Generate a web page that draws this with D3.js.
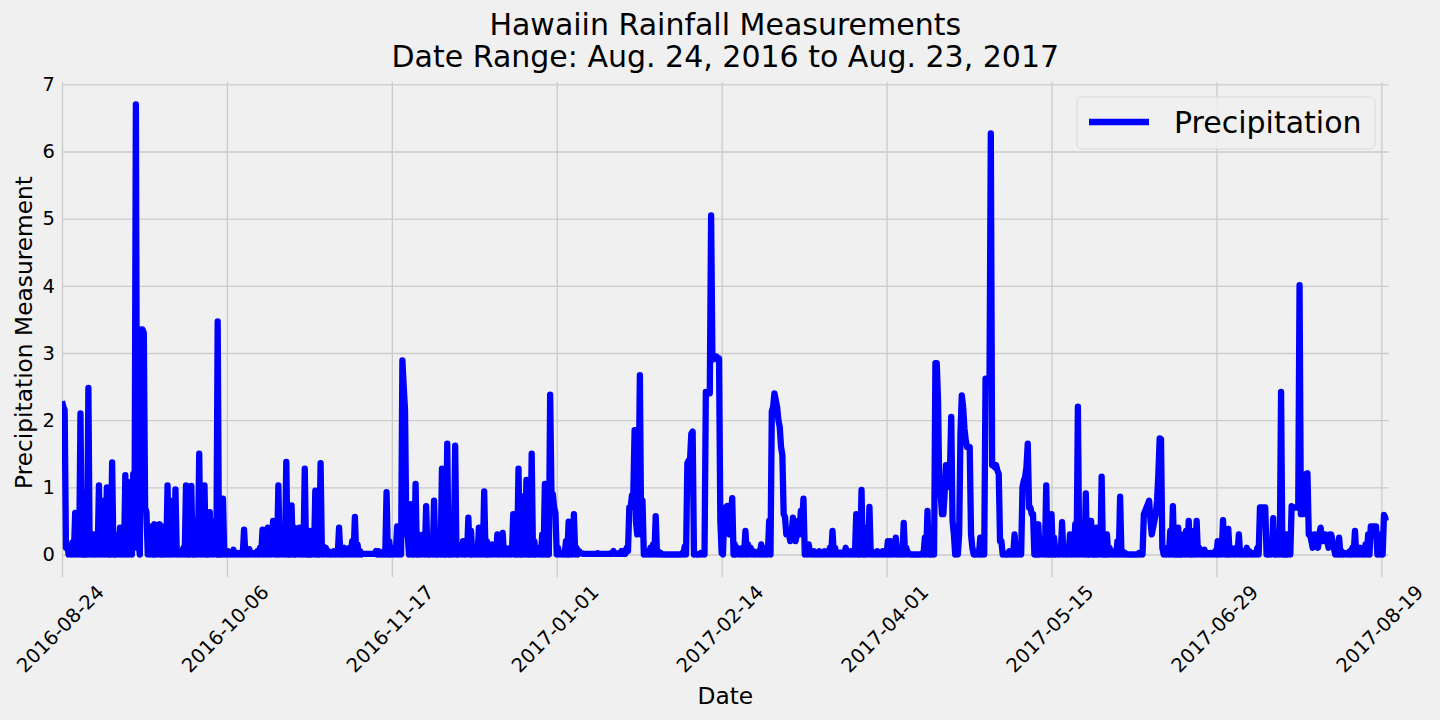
<!DOCTYPE html>
<html>
<head>
<meta charset="utf-8">
<script src="https://cdn.jsdelivr.net/npm/d3@7"></script>
<style>
html,body{margin:0;padding:0;background:#f0f0f0;}
svg{display:block;font-family:"DejaVu Sans","Liberation Sans",sans-serif;}
</style>
</head>
<body>
<svg id="chart" width="1440" height="720"></svg>
<script>
// Precipitation readings (inches), one reading every 2 rows of the date-sorted table
const precip = [
2.28,2.2, 2.15,0.1, 0.15,0, 0.02,0, 0.18,0, 0.62,0, 0.1,0, 2.1,0, 0.92,0, 0.35,0,
2.48,0, 0.05,0, 0.3,0, 0.05,0, 1.03,0, 0.1,0, 0.8,0, 1.0,0, 0.2,0, 1.37,0,
0.3,0, 0.1,0, 0.4,0, 0.05,0, 1.18,0, 0.1,0, 1.08,0, 1.2,0.5, 6.7,0.1, 0.2,0,
3.35,3.35, 3.3,0.7, 0.63,0, 0.1,0, 0.42,0, 0.45,0, 0.1,0, 0.45,0, 0.42,0, 0.05,0,
1.03,0, 0.8,0, 0.1,0, 0.97,0, 0.05,0, 0.02,0, 0.1,0, 1.03,0, 0.3,0, 1.02,0,
0.2,0, 0.5,0, 1.5,0, 0.1,0, 1.03,0, 0.3,0, 0.63,0, 0.1,0, 0.5,0, 3.47,0,
0.2,0, 0.83,0, 0.05,0, 0.05,0, 0.02,0, 0.07,0, 0.02,0, 0.02,0, 0.02,0, 0.37,0,
0.02,0, 0.08,0, 0.02,0, 0.02,0, 0.05,0, 0.1,0, 0.37,0, 0.1,0, 0.4,0, 0.1,0,
0.5,0, 0.2,0, 1.03,0, 0.1,0, 0.2,0, 1.38,0, 0.2,0, 0.73,0, 0.4,0, 0.1,0,
0.4,0, 0.2,0, 1.28,0, 0.35,0, 0.35,0, 0.1,0, 0.95,0, 0.2,0, 1.36,0, 0.12,0,
0.1,0, 0.05,0, 0.02,0, 0.05,0, 0.02,0, 0.4,0, 0.05,0, 0.1,0, 0.02,0, 0.1,0,
0.2,0, 0.56,0, 0.15,0, 0.05,0, 0.01,0.01, 0.01,0.01, 0.01,0.01, 0.01,0.01, 0.01,0.01, 0.05,0,
0.05,0, 0.02,0, 0.05,0, 0.93,0, 0.2,0, 0.02,0, 0.1,0, 0.42,0, 0.1,0, 2.89,2.5,
2.15,0.3, 0.3,0, 0.75,0, 0.2,0, 1.05,0, 0.3,0, 0.1,0, 0.3,0, 0.72,0, 0.25,0,
0.1,0, 0.8,0, 0.2,0, 0.3,0, 1.28,0, 0.3,0, 1.65,0, 0.3,0, 0.1,0, 1.62,0,
0.15,0, 0.1,0, 0.2,0, 0.1,0, 0.55,0, 0.35,0, 0.1,0, 0.05,0, 0.4,0, 0.1,0,
0.94,0, 0.2,0, 0.05,0, 0.15,0, 0.1,0, 0.3,0, 0.1,0, 0.32,0, 0.1,0, 0.05,0,
0.1,0, 0.6,0, 0.2,0, 1.28,0, 0.3,0, 0.87,0, 1.11,0, 0.2,0, 1.5,0, 0.2,0,
0.1,0, 0.05,0, 0.3,0, 1.05,0, 0.3,0, 2.38,0.9, 0.9,0.7, 0.62,0, 0.1,0, 0.02,0,
0.02,0, 0.2,0, 0.49,0, 0.1,0, 0.6,0, 0.1,0, 0.05,0.02, 0.02,0.01, 0.01,0.01, 0.01,0.01,
0.01,0.01, 0.01,0.01, 0.01,0.01, 0.02,0.01, 0.01,0.01, 0.01,0.01, 0.01,0.01, 0.01,0.01, 0.02,0.01, 0.05,0.01,
0.01,0.01, 0.02,0.01, 0.05,0.01, 0.05,0.01, 0.1,0.05, 0.7,0.7, 0.88,0.88, 1.85,0.5, 0.3,0.8, 2.67,0.3,
0.8,0, 0.05,0, 0.02,0, 0.1,0, 0.15,0, 0.57,0, 0.05,0, 0.02,0, 0,0, 0,0,
0,0, 0,0, 0,0, 0,0, 0,0, 0.02,0, 0.12,0, 1.36,1.4, 1.4,1.8, 1.83,0,
0.02,0, 0,0, 0.02,0, 0.02,0, 2.42,2.4, 2.4,2.4, 5.05,2.9, 2.95,2.95, 2.95,2.9, 2.92,0.5,
0.02,0, 0.65,0.7, 0.72,0.5, 0.3,0.6, 0.84,0, 0.15,0, 0.1,0, 0.05,0, 0.1,0, 0.35,0,
0.15,0, 0.1,0, 0.05,0, 0.02,0, 0.05,0, 0.15,0, 0.05,0, 0.1,0, 0.5,0, 2.13,2.2,
2.4,2.3, 2.2,2.0, 1.9,1.6, 1.48,0.6, 0.56,0.3, 0.35,0.3, 0.2,0.3, 0.55,0.3, 0.2,0.3, 0.5,0.3,
0.65,0.5, 0.83,0, 0.1,0, 0.15,0, 0.02,0, 0.05,0, 0.02,0, 0.05,0, 0.02,0, 0.05,0,
0.02,0, 0.1,0, 0.35,0, 0.1,0, 0.02,0, 0.03,0, 0.02,0, 0.1,0, 0.02,0, 0.05,0,
0.02,0, 0.6,0, 0.2,0, 0.96,0, 0.4,0, 0.1,0, 0.71,0, 0.05,0, 0.02,0, 0.05,0,
0.02,0, 0.05,0, 0.02,0, 0.2,0, 0.2,0, 0.1,0, 0.25,0, 0.05,0, 0.05,0, 0.47,0,
0.1,0, 0.02,0, 0,0, 0,0, 0,0, 0,0, 0.02,0, 0.25,0, 0.65,0, 0.2,0,
0.35,0, 2.85,2.85, 2.3,0.9, 0.9,0.6, 0.6,0.9, 1.33,1.0, 1.1,1.2, 2.05,0.5, 0.3,0, 0.1,0,
0.3,1.8, 2.37,2.2, 1.88,1.7, 1.6,1.6, 1.6,0.3, 0.1,0, 0,0, 0.05,0, 0.25,0, 0.1,0,
2.62,2.6, 2.6,2.6, 6.27,1.33, 1.33,1.3, 1.33,1.25, 1.2,0.2, 0.2,0, 0.02,0, 0,0, 0.05,0,
0.05,0, 0.3,0, 0.1,0, 0.05,0, 1.0,1.1, 1.15,1.3, 1.65,0.7, 0.7,0.6, 0.6,0, 0.2,0,
0.45,0, 0.1,0, 0.2,0, 1.03,0, 0.3,0, 0.6,0, 0.25,0, 0.05,0, 0.1,0, 0.48,0,
0.05,0, 0.02,0, 0.3,0, 0.15,0, 0.45,0, 2.2,0, 0.1,0, 0.3,0, 0.91,0, 0.2,0,
0.5,0, 0.35,0, 0.4,0, 0.1,0, 1.16,0, 0.3,0, 0.3,0, 0.1,0, 0.05,0, 0.02,0,
0.2,0, 0.86,0, 0.05,0, 0.02,0, 0,0, 0,0, 0,0, 0,0, 0.02,0, 0.02,0,
0.6,0.65, 0.7,0.75, 0.8,0.5, 0.3,0.4, 0.5,0.6, 0.8,1.2, 1.73,1.72, 0.1,0, 0.05,0, 0.1,0,
0.35,0, 0.72,0, 0.2,0, 0.4,0, 0.3,0, 0.1,0, 0.35,0, 0.5,0, 0.35,0, 0.2,0,
0.5,0, 0.1,0, 0.05,0, 0.07,0, 0.02,0, 0.02,0, 0.02,0, 0.05,0, 0.2,0, 0.1,0,
0.51,0, 0.2,0, 0.38,0, 0.1,0, 0.05,0, 0.1,0, 0.3,0, 0.02,0, 0.05,0, 0.1,0,
0.05,0, 0.02,0, 0.02,0, 0.1,0, 0.7,0.7, 0.7,0.7, 0.7,0, 0.2,0, 0.1,0, 0.54,0,
0.3,0, 0.1,0, 2.42,0, 0.3,0, 0.3,0, 0.1,0, 0.72,0.7, 0.7,0.7, 0.7,0.7, 4.01,0.6,
0.6,0.6, 1.0,1.2, 1.21,0.3, 0.3,0.2, 0.1,0.3, 0.3,0.2, 0.1,0.3, 0.4,0.2, 0.2,0.3, 0.3,0.2,
0.1,0.3, 0.3,0.2, 0.1,0, 0.05,0, 0.25,0, 0.05,0, 0.02,0, 0.02,0, 0.05,0, 0.1,0,
0.35,0, 0.1,0, 0.1,0, 0.05,0, 0.15,0, 0.3,0, 0.42,0.42, 0.42,0.42, 0.42,0, 0.05,0,
0.3,0, 0.59,0.55, 0.5
];
const rowsPerReading = 2;
const lastRow = 2011;
const tickRows = [0, 250, 500, 750, 1000, 1250, 1500, 1750, 2000];
const tickLabels = ["2016-08-24","2016-10-06","2016-11-17","2017-01-01","2017-02-14","2017-04-01","2017-05-15","2017-06-29","2017-08-19"];
const yTickValues = [0, 1, 2, 3, 4, 5, 6, 7];
const yDomain = [-0.335, 7.035];
const titleLines = ["Hawaiin Rainfall Measurements", "Date Range: Aug. 24, 2016 to Aug. 23, 2017"];
const seriesName = "Precipitation";
const xLabel = "Date";
const yLabel = "Precipitation Measurement";

const svg = d3.select("#chart");
const W = 1440, H = 720;
const L = 62, R = 1388.6, T = 82, B = 577;
const BLUE = "#0000ff", GRID = "#cbcbcb";
const FONT = '"DejaVu Sans",sans-serif';

svg.append("rect").attr("width", W).attr("height", H).attr("fill", "#f0f0f0");

const x = d3.scaleLinear().domain([0, lastRow]).range([L, R]);
const y = d3.scaleLinear().domain(yDomain).range([B, T]);

// y axis + horizontal grid
const gy = svg.append("g").attr("transform", `translate(${L},0)`)
  .call(d3.axisLeft(y).tickValues(yTickValues).tickSize(-(R - L)).tickPadding(7).tickFormat(d3.format("d")));
gy.select(".domain").remove();
gy.attr("font-family", FONT).attr("font-size", 19.5);
gy.selectAll(".tick line").attr("stroke", GRID).attr("stroke-width", 1.3);
gy.selectAll(".tick text").attr("fill", "#000");

// x axis + vertical grid
const gx = svg.append("g").attr("transform", `translate(0,${B})`)
  .call(d3.axisBottom(x).tickValues(tickRows).tickSize(-(B - T)).tickFormat((d, i) => tickLabels[i]));
gx.select(".domain").remove();
gx.attr("font-family", FONT).attr("font-size", 19.5);
gx.selectAll(".tick line").attr("stroke", GRID).attr("stroke-width", 1.3);
gx.selectAll(".tick text")
  .attr("y", null).attr("dy", null).attr("x", null)
  .attr("fill", "#000")
  .attr("text-anchor", "middle")
  .attr("dominant-baseline", "central")
  .attr("transform", "translate(-2,52) rotate(-45)");

// clip
svg.append("clipPath").attr("id", "plotclip")
  .append("rect").attr("x", L).attr("y", T).attr("width", R - L).attr("height", B - T);

const line = d3.line()
  .x((d, i) => x(i * rowsPerReading))
  .y(d => y(d));

svg.append("path")
  .datum(precip)
  .attr("clip-path", "url(#plotclip)")
  .attr("fill", "none")
  .attr("stroke", BLUE)
  .attr("stroke-width", 6.3)
  .attr("stroke-linejoin", "round")
  .attr("stroke-linecap", "butt")
  .attr("d", line);

// title
const title = svg.append("text").attr("text-anchor", "middle")
  .attr("fill", "#000").attr("font-family", FONT).attr("font-size", 30);
title.selectAll("tspan").data(titleLines).join("tspan")
  .attr("x", (L + R) / 2)
  .attr("y", (d, i) => 35 + i * 32)
  .text(d => d);

// axis labels
svg.append("text").attr("x", (L + R) / 2).attr("y", 704)
  .attr("text-anchor", "middle").attr("fill", "#000").attr("font-family", FONT).attr("font-size", 23.3)
  .text(xLabel);
svg.append("text")
  .attr("transform", `translate(32,${(T + B) / 2 + 3}) rotate(-90)`)
  .attr("text-anchor", "middle").attr("fill", "#000").attr("font-family", FONT).attr("font-size", 23.3)
  .text(yLabel);

// legend
const lg = svg.append("g");
lg.append("rect").attr("x", 1077).attr("y", 97).attr("width", 298).attr("height", 52)
  .attr("rx", 5).attr("fill", "rgba(240,240,240,0.8)").attr("stroke", "rgba(204,204,204,0.6)").attr("stroke-width", 1);
lg.append("line").attr("x1", 1089).attr("x2", 1149).attr("y1", 122).attr("y2", 122)
  .attr("stroke", BLUE).attr("stroke-width", 6.3);
lg.append("text").attr("x", 1174).attr("y", 133).attr("fill", "#000")
  .attr("font-family", FONT).attr("font-size", 30).text(seriesName);
</script>
</body>
</html>
